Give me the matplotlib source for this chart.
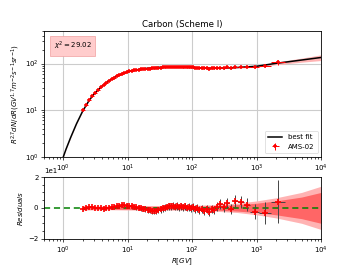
import numpy as np
import matplotlib
matplotlib.use("Agg")
import matplotlib.pyplot as plt
from matplotlib.ticker import AutoMinorLocator, LogLocator, NullFormatter

# ---------------- data ----------------
bin_edges = [1.92, 2.15, 2.40, 2.67, 2.97, 3.29, 3.64, 4.02, 4.43, 4.88, 5.37, 5.90, 6.47,
             7.09, 7.76, 8.48, 9.26, 10.1, 11.0, 12.0, 13.0, 14.1, 15.3, 16.6, 18.0, 19.5,
             21.1, 22.8, 24.7, 26.7, 28.8, 31.1, 33.5, 36.1, 38.9, 41.9, 45.1, 48.5, 52.2,
             56.1, 60.3, 64.8, 69.7, 74.9, 80.5, 86.5, 93.0, 100, 108, 116, 125, 135, 147,
             160, 175, 192, 211, 230, 250, 290, 330, 375, 430, 510, 630, 800, 1100, 1700, 2800]

flux = [9.9, 13.0, 16.4, 19.9, 23.4, 27.0, 30.9, 34.6, 38.4, 42.5, 46.1, 49.9, 53.6, 57.2,
        60.4, 63.4, 66.0, 68.2, 70.1, 71.7, 73.1, 74.4, 75.4, 76.4, 77.1, 77.8, 78.2, 78.8,
        79.4, 80.1, 80.9, 81.9, 82.8, 83.7, 84.3, 85.0, 85.2, 85.8, 85.3, 85.5, 84.8, 85.0,
        84.3, 84.6, 83.7, 83.7, 82.6, 82.7, 81.5, 81.4, 80.2, 80.2, 79.0, 79.2, 77.7, 78.9,
        78.5, 80.2, 81.8, 80.6, 83.2, 80.4, 85.5, 86.3, 86.2, 84.9, 89.0, 107.1]

residual = [-0.9, -0.3, 0.3, 0.4, 0.2, -0.1, -0.4, -0.5, -0.3, -0.1, 0.3, 0.8, 1.2, 1.3,
            1.6, 1.7, 1.5, 1.3, 0.9, 0.6, 0.4, 0.2, -0.2, -0.5, -0.9, -1.3, -1.7, -2.0,
            -2.1, -1.9, -1.6, -1.0, -0.4, 0.2, 0.6, 1.1, 0.9, 1.4, 0.8, 1.2, 0.5, 1.0,
            0.3, 0.9, 0.2, 0.6, -0.2, 0.4, -0.6, -0.2, -1.2, -0.8, -1.8, -1.0, -2.4, -0.6,
            -1.3, 0.8, 2.5, 0.6, 3.2, -1.0, 4.3, 4.0, 2.0, -2.4, -3.3, 4.0]

rel_err = [0.6, 0.6, 0.6, 0.6, 0.6, 0.7, 0.7, 0.7, 0.8, 0.8, 0.9, 1.0, 1.1, 1.2,
           1.3, 1.3, 1.4, 1.4, 1.5, 1.5, 1.6, 1.6, 1.7, 1.7, 1.8, 1.8, 1.9, 1.9,
           2.0, 2.0, 2.0, 2.1, 2.1, 2.1, 2.2, 2.2, 2.2, 2.3, 2.3, 2.3, 2.3, 2.4,
           2.4, 2.4, 2.4, 2.5, 2.5, 2.5, 2.5, 2.5, 2.6, 2.6, 2.6, 2.6, 2.7, 2.7,
           2.8, 2.8, 3.0, 3.0, 3.2, 3.3, 3.8, 4.0, 4.2, 5.0, 7.0, 14.0]

fit_R = [1.0, 1.1, 1.3, 1.6, 2.0, 2.5, 3.0, 4.0, 5.0, 7.0, 10, 15, 20, 30, 50, 80,
         120, 200, 300, 500, 1000, 2000, 5000, 10000]
fit_val = [1.0, 1.45, 2.6, 5.1, 9.6, 16.0, 22.3, 33.0, 42.0, 56.0, 67.0, 75.0, 79.0,
           83.0, 84.6, 83.8, 81.6, 79.4, 80.1, 82.4, 87.5, 101.0, 119.0, 135.0]
band_outer = [1.5, 1.5, 1.5, 1.5, 1.5, 1.4, 1.3, 1.2, 1.2, 1.3, 1.4, 1.5, 1.5, 1.5,
              1.5, 1.5, 1.7, 2.0, 2.5, 3.0, 4.5, 6.5, 10.0, 14.0]
band_inner = [1.0, 1.0, 1.0, 1.0, 1.0, 0.9, 0.9, 0.8, 0.8, 0.9, 1.0, 1.0, 1.0, 1.0,
              1.0, 1.0, 1.1, 1.3, 1.7, 2.1, 3.0, 4.5, 7.0, 10.0]

chi2_text = r"$\chi^2 = 29.02$"

# ---------------- derived ----------------
edges = np.array(bin_edges)
R = np.sqrt(edges[:-1] * edges[1:])
xerr = np.vstack([R - edges[:-1], edges[1:] - R])
flux = np.array(flux)
residual = np.array(residual)
rel_err = np.array(rel_err)
fit_R = np.array(fit_R)
fit_val = np.array(fit_val)
band_outer = np.array(band_outer)
band_inner = np.array(band_inner)

fs = 5.0
fig = plt.figure(figsize=(3.57, 2.68), dpi=100)
ax1 = fig.add_axes([0.1232, 0.4153, 0.7759, 0.469])
ax2 = fig.add_axes([0.1232, 0.1093, 0.7759, 0.2302])

# top panel
ax1.fill_between(fit_R, fit_val * (1 - band_outer / 100), fit_val * (1 + band_outer / 100),
                 color="#ffb3b3", lw=0, zorder=2)
ax1.plot(fit_R, fit_val, color="black", lw=1.1, label="best fit", zorder=3)
ax1.errorbar(R, flux, yerr=flux * rel_err / 100, xerr=xerr, fmt="+", color="red",
             ecolor="red", elinewidth=0.7, markersize=3.5, mew=1.1, capsize=0,
             label="AMS-02", zorder=4)
ax1.set_xscale("log")
ax1.set_yscale("log")
ax1.set_xlim(0.5, 1e4)
ax1.set_ylim(1, 500)
ax1.grid(True, which="major", color="#cccccc", lw=0.8)
ax1.set_axisbelow(True)
ax1.set_title("Carbon (Scheme I)", fontsize=6.2, pad=3)
ax1.set_ylabel(r"$R^{2.7}dN/dR(GV^{1.7}m^{-2}s^{-1}sr^{-1})$", fontsize=fs, labelpad=2)
ax1.text(0.035, 0.93, chi2_text, transform=ax1.transAxes, fontsize=fs, va="top", ha="left",
         bbox=dict(boxstyle="square,pad=0.5", facecolor="#ffcccc", edgecolor="#f0a0a0", lw=0.5))
leg = ax1.legend(loc="lower right", fontsize=fs, frameon=True, handlelength=2.0,
                 borderpad=0.5, labelspacing=0.5)
leg.get_frame().set_linewidth(0.5)

# bottom panel
ax2.fill_between(fit_R[4:], -band_outer[4:], band_outer[4:], color="#ffb3b3", lw=0, zorder=1)
ax2.fill_between(fit_R[4:], -band_inner[4:], band_inner[4:], color="#ff6666", lw=0, zorder=1)
ax2.plot([0.5, 1e4], [0, 0], color="green", ls="--", lw=1.1, dashes=(4, 2.5), zorder=2)
ax2.errorbar(R, residual, yerr=rel_err, xerr=xerr, fmt="+", color="red",
             ecolor="#444444", elinewidth=0.7, markersize=4, mew=1.2, capsize=0, zorder=3)
ax2.set_xscale("log")
ax2.set_xlim(0.5, 1e4)
ax2.set_ylim(-20, 20)
ax2.set_yticks([-20, 0, 20])
ax2.yaxis.set_minor_locator(AutoMinorLocator(4))
ax2.ticklabel_format(axis="y", style="sci", scilimits=(0, 0))
ax2.yaxis.get_offset_text().set_fontsize(fs)
ax2.grid(True, axis="x", which="major", color="#cccccc", lw=0.8)
ax2.set_axisbelow(True)
ax2.set_ylabel(r"$Residuals$", fontsize=fs, labelpad=2)
ax2.set_xlabel(r"$R[GV]$", fontsize=fs, labelpad=1)

for ax in (ax1, ax2):
    ax.tick_params(which="both", labelsize=fs, width=0.5, pad=1.5)
    ax.tick_params(which="major", length=2.5)
    ax.tick_params(which="minor", length=1.5)
    ax.xaxis.set_major_locator(LogLocator(base=10, numticks=10))
    ax.xaxis.set_minor_locator(LogLocator(base=10, subs=np.arange(2, 10), numticks=10))
    ax.xaxis.set_minor_formatter(NullFormatter())
    for s in ax.spines.values():
        s.set_linewidth(0.6)

fig.savefig("out.png", dpi=100)
